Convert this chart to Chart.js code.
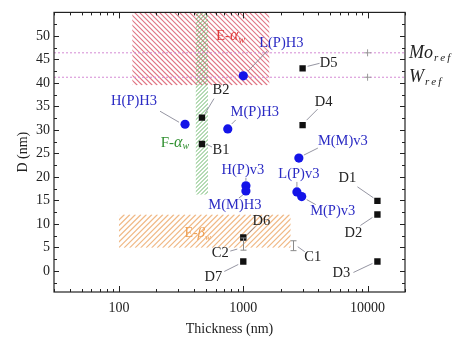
<!DOCTYPE html>
<html>
<head>
<meta charset="utf-8">
<script src="https://cdn.jsdelivr.net/npm/chart.js@4.4.1/dist/chart.umd.min.js"></script>
<style>
  html, body { margin: 0; padding: 0; background: #fff; }
  #wrap { width: 457px; height: 340px; }
</style>
</head>
<body>
<div id="wrap"><canvas id="chart" width="457" height="340"></canvas></div>
<script>
// --- Data ---
const circleNames = ["L(P)H3", "H(P)H3", "M(P)H3", "H(P)v3", "M(M)H3", "M(M)v3", "L(P)v3", "M(P)v3"];
const circleThick = [1000, 340, 750, 1050, 1050, 2800, 2700, 2950];
const circleD = [41.5, 31.2, 30.2, 18.1, 17.0, 24.0, 16.8, 15.8];

const squareNames = ["B2", "B1", "D5", "D4", "D1", "D2", "D3", "D6", "D7"];
const squareThick = [465, 465, 3000, 3000, 12000, 12000, 12000, 1000, 1000];
const squareD = [32.6, 27.0, 43.1, 31.0, 14.9, 12.0, 2.0, 7.1, 2.0];

const barNames = ["C2", "C1"];
const barThick = [1000, 2500];
const barLow = [4.4, 4.3];
const barHigh = [7.0, 6.4];

const regionNames = ["E-αw", "F-αw", "E-βw"];
const regionX0 = [128, 415, 100];
const regionX1 = [1620, 520, 2400];
const regionY0 = [39.5, 16.2, 4.9];
const regionY1 = [56, 56, 12.0];

const refNames = ["Mo", "W"];
const refD = [46.4, 41.2];
const refMarkX = 10000;

const xTicks = [100, 1000, 10000];
const yTicks = [0, 5, 10, 15, 20, 25, 30, 35, 40, 45, 50];

// --- Styles ---
const SERIF = "'Liberation Serif', 'Times New Roman', serif";
const BLUE = "#1414e8";
const BLUE_TXT = "#2b2bc4";
const regionStyle = [
  { color: "rgba(214, 64, 84, 0.72)", dir: -1, gap: 5, lw: 1.1 },
  { color: "rgba(80, 170, 80, 0.85)", dir: 1, gap: 4, lw: 1.0 },
  { color: "rgba(236, 168, 104, 0.8)", dir: 1, gap: 5.5, lw: 1.2 },
];

// label offsets (px) from their marker, and leader line offsets
const pointLabels = [
  { name: "L(P)H3", color: BLUE_TXT, dx: 38, dy: -33, lead: [5, -5, 24, -25] },
  { name: "H(P)H3", color: BLUE_TXT, dx: -51, dy: -23, lead: [-6, -2, -25, -13] },
  { name: "M(P)H3", color: BLUE_TXT, dx: 27, dy: -17, lead: [4, -5, 8, -9] },
  { name: "H(P)v3", color: BLUE_TXT, dx: -3, dy: -16, lead: [0, -5, 0, -8] },
  { name: "M(M)H3", color: BLUE_TXT, dx: -11, dy: 14, lead: [-3, 4, -7, 7] },
  { name: "M(M)v3", color: BLUE_TXT, dx: 44, dy: -17, lead: [5, -3, 19, -10] },
  { name: "L(P)v3", color: BLUE_TXT, dx: 2, dy: -18, lead: [0, -5, 0, -10] },
  { name: "M(P)v3", color: BLUE_TXT, dx: 31, dy: 15, lead: [5, 3, 14, 8] },
  { name: "B2", color: "#222", dx: 19, dy: -27, lead: [3, -4, 12, -19] },
  { name: "B1", color: "#222", dx: 19, dy: 6, lead: [4, 0, 10, 3] },
  { name: "D5", color: "#222", dx: 26, dy: -5, lead: [5, -2, 17, -5] },
  { name: "D4", color: "#222", dx: 21, dy: -23, lead: [4, -5, 15, -16] },
  { name: "D1", color: "#222", dx: -30, dy: -23, lead: [-4, -3, -20, -14] },
  { name: "D2", color: "#222", dx: -24, dy: 19, lead: [-5, 3, -17, 11] },
  { name: "D3", color: "#222", dx: -36, dy: 12, lead: [-5, 2, -24, 11] },
  { name: "D6", color: "#222", dx: 18, dy: -16, lead: [4, -3, 12, -11] },
  { name: "D7", color: "#222", dx: -30, dy: 16, lead: [-5, 3, -19, 10] },
  { name: "C2", color: "#222", dx: -23, dy: 9, lead: [-13, 7, -6, 5] },
  { name: "C1", color: "#222", dx: 20, dy: 11, lead: [5, 1, 12, 6] },
];

// region captions in data coords
const regionLabels = [
  { sym: "α", color: "#e03a3a", x: 790, y: 50.0, size: 15 },
  { sym: "α", color: "#2f8f2f", x: 282, y: 27.3, size: 15 },
  { sym: "β", color: "#eea055", x: 430, y: 8.0, size: 14 },
];
const regionPrefix = ["E-", "F-", "E-"];

function findPoint(name) {
  let i = circleNames.indexOf(name);
  if (i >= 0) return [circleThick[i], circleD[i]];
  i = squareNames.indexOf(name);
  if (i >= 0) return [squareThick[i], squareD[i]];
  i = barNames.indexOf(name);
  return [barThick[i], (barLow[i] + barHigh[i]) / 2];
}

// --- Drawing helpers ---
function hatch(ctx, x0, y0, x1, y1, st) {
  ctx.save();
  ctx.beginPath();
  ctx.rect(x0, y0, x1 - x0, y1 - y0);
  ctx.clip();
  ctx.strokeStyle = st.color;
  ctx.lineWidth = st.lw;
  const h = y1 - y0, w = x1 - x0;
  ctx.beginPath();
  for (let s = -h; s < w + h; s += st.gap) {
    if (st.dir > 0) { ctx.moveTo(x0 + s, y1); ctx.lineTo(x0 + s + h, y0); }
    else { ctx.moveTo(x0 + s, y0); ctx.lineTo(x0 + s + h, y1); }
  }
  ctx.stroke();
  ctx.restore();
}

function drawParts(ctx, parts, cx, cy) {
  let total = 0;
  parts.forEach(p => { ctx.font = p.font; p.w = ctx.measureText(p.t).width; total += p.w; });
  let x = cx - total / 2;
  ctx.textBaseline = "middle";
  ctx.textAlign = "left";
  parts.forEach(p => {
    ctx.font = p.font;
    ctx.fillStyle = p.color;
    ctx.fillText(p.t, x, cy + (p.dy || 0));
    x += p.w;
  });
}

const decorPlugin = {
  id: "decor",
  beforeDatasetsDraw(chart) {
    const { ctx, chartArea: a, scales: { x, y } } = chart;
    ctx.save();
    ctx.beginPath();
    ctx.rect(a.left, a.top, a.right - a.left, a.bottom - a.top);
    ctx.clip();
    regionNames.forEach((n, i) => {
      hatch(ctx, x.getPixelForValue(regionX0[i]), y.getPixelForValue(regionY1[i]),
        x.getPixelForValue(regionX1[i]), y.getPixelForValue(regionY0[i]), regionStyle[i]);
    });
    ctx.restore();
  },
  afterDatasetsDraw(chart) {
    const { ctx, chartArea: a, scales: { x, y } } = chart;
    ctx.save();

    // error bars
    ctx.strokeStyle = "#8a8a8a";
    ctx.lineWidth = 1;
    barNames.forEach((n, i) => {
      const px = Math.round(x.getPixelForValue(barThick[i])) + 0.5;
      const lo = y.getPixelForValue(barLow[i]), hi = y.getPixelForValue(barHigh[i]);
      ctx.beginPath();
      ctx.moveTo(px, lo); ctx.lineTo(px, hi);
      ctx.moveTo(px - 3, lo); ctx.lineTo(px + 3, lo);
      ctx.moveTo(px - 3, hi); ctx.lineTo(px + 3, hi);
      ctx.stroke();
    });

    // point labels + leaders
    pointLabels.forEach(l => {
      const [vx, vy] = findPoint(l.name);
      const px = x.getPixelForValue(vx), py = y.getPixelForValue(vy);
      ctx.strokeStyle = "#7a7a8a";
      ctx.lineWidth = 0.8;
      ctx.beginPath();
      ctx.moveTo(px + l.lead[0], py + l.lead[1]);
      ctx.lineTo(px + l.lead[2], py + l.lead[3]);
      ctx.stroke();
      ctx.font = "14.5px " + SERIF;
      ctx.fillStyle = l.color;
      ctx.textAlign = "center";
      ctx.textBaseline = "middle";
      ctx.fillText(l.name, px + l.dx, py + l.dy);
    });

    // region captions
    regionLabels.forEach((r, i) => {
      const s = r.size;
      drawParts(ctx, [
        { t: regionPrefix[i], font: s + "px " + SERIF, color: r.color },
        { t: r.sym, font: "italic " + (s + 1) + "px " + SERIF, color: r.color },
        { t: "w", font: "italic " + (s - 5) + "px " + SERIF, color: r.color, dy: 4 },
      ], x.getPixelForValue(r.x), y.getPixelForValue(r.y));
    });

    // reference labels outside the frame
    refNames.forEach((n, i) => {
      const py = y.getPixelForValue(refD[i]);
      ctx.textBaseline = "middle";
      ctx.textAlign = "left";
      ctx.fillStyle = "#222";
      ctx.font = "italic 18px " + SERIF;
      ctx.fillText(n, a.right + 4, py);
      const w = ctx.measureText(n).width;
      ctx.font = "italic 11px " + SERIF;
      let sx = a.right + 4 + w + 1;
      "ref".split("").forEach(c => {
        ctx.fillText(c, sx, py + 5);
        sx += ctx.measureText(c).width + 2;
      });
    });

    // frame
    ctx.strokeStyle = "#222";
    ctx.lineWidth = 1.2;
    ctx.strokeRect(a.left, a.top, a.right - a.left, a.bottom - a.top);

    // inward ticks on all four sides
    ctx.lineWidth = 1;
    ctx.beginPath();
    for (let v = -2.5; v <= 55; v += 2.5) {
      const py = Math.round(y.getPixelForValue(v)) + 0.5;
      if (py <= a.top + 1 || py >= a.bottom - 1) continue;
      const len = (v % 5 === 0) ? 5 : 3;
      ctx.moveTo(a.left, py); ctx.lineTo(a.left + len, py);
      ctx.moveTo(a.right, py); ctx.lineTo(a.right - len, py);
    }
    for (let d = 10; d <= 10000; d *= 10) {
      for (let m = 1; m < 10; m++) {
        const v = d * m;
        if (v < x.min || v > x.max) continue;
        const px = Math.round(x.getPixelForValue(v)) + 0.5;
        const len = m === 1 ? 6 : 3;
        ctx.moveTo(px, a.bottom); ctx.lineTo(px, a.bottom - len);
        ctx.moveTo(px, a.top); ctx.lineTo(px, a.top + len);
      }
    }
    ctx.stroke();
    ctx.restore();
  },
};

// --- Datasets ---
const refDatasets = refNames.map((n, i) => ({
  type: "line",
  label: n + "_ref",
  data: [{ x: 30, y: refD[i] }, { x: refMarkX, y: refD[i] }, { x: 20000, y: refD[i] }],
  borderColor: "#d48ad4",
  borderWidth: 1,
  borderDash: [2, 2],
  pointStyle: "cross",
  pointRadius: [0, 3.5, 0],
  pointBorderColor: "#999",
  pointBorderWidth: 1,
  fill: false,
  order: 3,
}));

new Chart(document.getElementById("chart"), {
  type: "scatter",
  data: {
    datasets: [
      ...refDatasets,
      {
        label: "squares",
        data: squareThick.map((v, i) => ({ x: v, y: squareD[i] })),
        pointStyle: "rect",
        pointRadius: 4.5,
        backgroundColor: "#111",
        borderColor: "#111",
        borderWidth: 0,
        order: 2,
      },
      {
        label: "circles",
        data: circleThick.map((v, i) => ({ x: v, y: circleD[i] })),
        pointStyle: "circle",
        pointRadius: 4.6,
        backgroundColor: BLUE,
        borderColor: BLUE,
        borderWidth: 0,
        order: 1,
      },
    ],
  },
  options: {
    responsive: false,
    animation: false,
    layout: { padding: { top: 10, right: 52, left: 0, bottom: 0 } },
    plugins: { legend: { display: false }, tooltip: { enabled: false } },
    scales: {
      x: {
        type: "logarithmic",
        min: 30,
        max: 20000,
        grid: { display: false, drawTicks: false },
        border: { display: false },
        afterBuildTicks: s => { s.ticks = xTicks.map(v => ({ value: v })); },
        afterFit: s => { s.height = 48; },
        ticks: {
          color: "#222",
          font: { family: SERIF, size: 14 },
          padding: 8,
          maxRotation: 0,
          callback: v => String(v),
        },
        title: {
          display: true,
          text: "Thickness (nm)",
          color: "#222",
          font: { family: SERIF, size: 14 },
          padding: { top: 0, bottom: 2 },
        },
      },
      y: {
        min: -4.5,
        max: 55,
        grid: { display: false, drawTicks: false },
        border: { display: false },
        afterBuildTicks: s => { s.ticks = yTicks.map(v => ({ value: v })); },
        afterFit: s => { s.width = 54; },
        ticks: {
          color: "#222",
          font: { family: SERIF, size: 14 },
          padding: 4,
        },
        title: {
          display: true,
          text: "D (nm)",
          color: "#222",
          font: { family: SERIF, size: 14 },
          padding: { top: 15, bottom: 0 },
        },
      },
    },
  },
  plugins: [decorPlugin],
});
</script>
</body>
</html>
